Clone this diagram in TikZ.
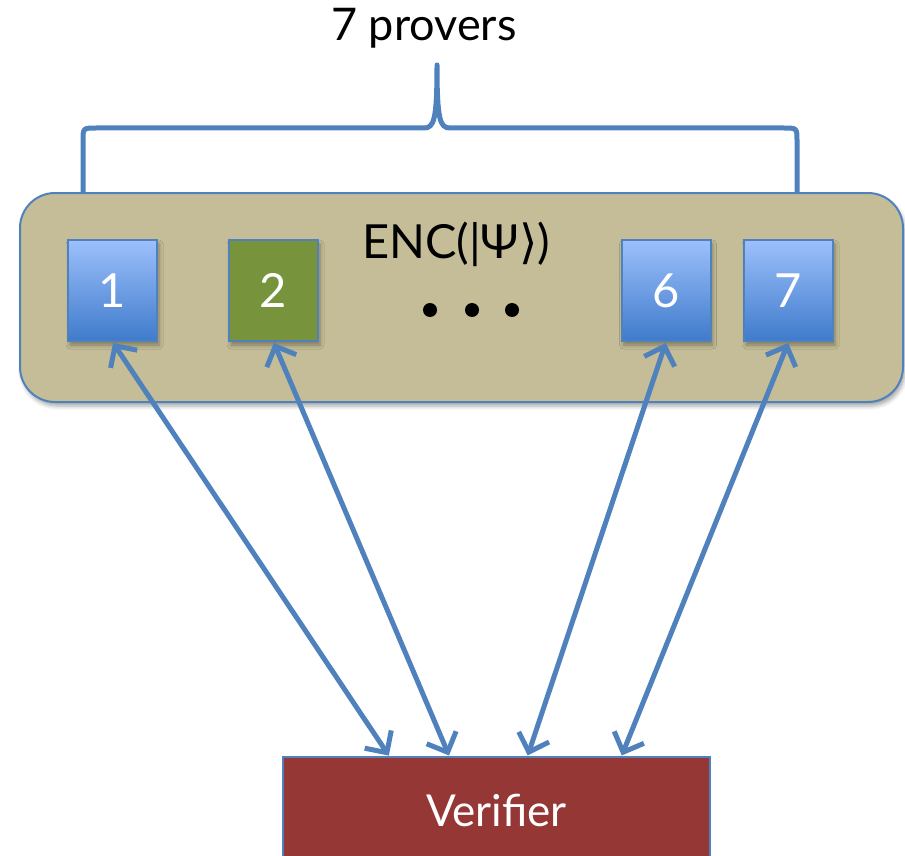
\documentclass[tikz,border=0pt]{standalone}
\usepackage{fontspec}
\setmainfont{Lato}
\newfontfamily\symfont{DejaVu Sans}
\usetikzlibrary{arrows.meta,calc,shadows.blur}

\definecolor{linkblue}{HTML}{4F81BD}
\definecolor{boxtop}{HTML}{9DC0FC}
\definecolor{boxbot}{HTML}{3F7BCB}
\definecolor{boxgreen}{HTML}{77933C}
\definecolor{tan}{HTML}{C4BD97}
\definecolor{verred}{HTML}{953735}

\tikzset{
  fontsz/.style={font=\fontsize{#1}{#1}\selectfont},
  softshadow/.style={blur shadow={shadow xshift=2pt, shadow yshift=-4pt,
      shadow blur radius=4pt, shadow opacity=35}},
  prover/.style={draw=linkblue, line width=2pt, minimum width=89pt,
      minimum height=101pt, inner sep=0pt, text=white, fontsz=47, softshadow},
  bluebox/.style={prover, top color=boxtop, bottom color=boxbot},
  greenbox/.style={prover, fill=boxgreen},
  container/.style={draw=linkblue, line width=2pt, fill=tan,
      rounded corners=35pt, minimum width=883pt, minimum height=209pt,
      inner sep=0pt, softshadow},
  verifier/.style={draw=linkblue, line width=1.2pt, fill=verred, text=white,
      minimum width=427pt, minimum height=106pt, inner sep=0pt, fontsz=44},
  brace/.style={draw=linkblue, line width=5pt, line join=round},
  link/.style={draw=linkblue, line width=5pt,
      {Straight Barb[length=16pt,width=32pt,line width=5pt]}-{Straight Barb[length=16pt,width=32pt,line width=5pt]},
      shorten <=1pt, shorten >=1pt},
}

\begin{document}
\begin{tikzpicture}[x=1pt,y=-1pt]
\useasboundingbox (0,0) rectangle (905,856);

% heading
\node[fontsz=45] (title) at (424,28) {7 provers};

% curly brace grouping the provers
\coordinate (bl) at (83,193);
\coordinate (br) at (797,193);
\coordinate (bt) at (437,65);
\path[brace] (bl) -- (83,141) .. controls (83,128) .. (96,128)
  -- (424,128) .. controls (434,128) and (437,120) .. (bt)
  .. controls (437,120) and (440,128) .. (450,128)
  -- (784,128) .. controls (797,128) .. (797,141) -- (br);

% shared encoded state
\node[container] (enc) at (461.5,297.5) {};
\node[fontsz=47] (enclabel) at (456,244) {ENC(|Ψ{\symfont ⟩})};
\fill (430,310) circle (7);
\fill (472,310) circle (7);
\fill (512,310) circle (7);

% provers
\node[bluebox]  (p1) at (112.5,290.5) {1};
\node[greenbox] (p2) at (273.5,290.5) {2};
\node[bluebox]  (p6) at (666,290.5) {6};
\node[bluebox]  (p7) at (788.5,290.5) {7};

% verifier
\node[verifier] (ver) at (496.5,810) {Verifier};

% two-way channels
\coordinate (v1) at ($(ver.north west)+(107,0)$);
\coordinate (v2) at ($(ver.north west)+(167,0)$);
\coordinate (v6) at ($(ver.north west)+(245,0)$);
\coordinate (v7) at ($(ver.north west)+(339,0)$);
\draw[link] (p1.south) -- (v1);
\draw[link] (p2.south) -- (v2);
\draw[link] (p6.south) -- (v6);
\draw[link] (p7.south) -- (v7);
\end{tikzpicture}
\end{document}
